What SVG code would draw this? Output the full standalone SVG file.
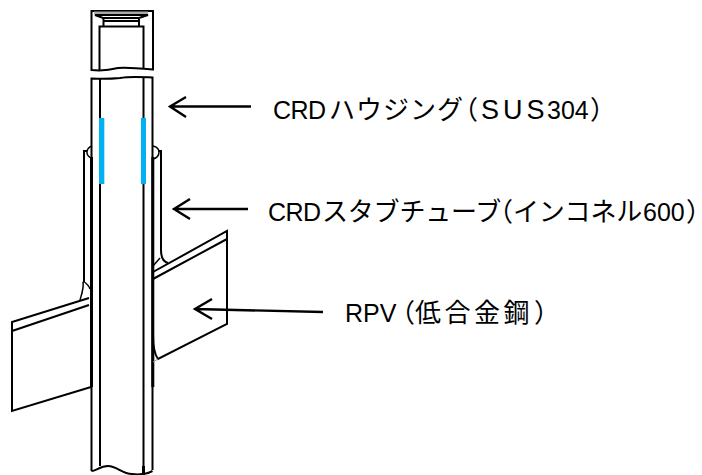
<svg xmlns="http://www.w3.org/2000/svg" width="702" height="475" viewBox="0 0 702 475">
<style>
.l{fill:none;stroke:#000;stroke-width:1.500}
.m{fill:none;stroke:#000;stroke-width:2}
.h{fill:none;stroke:#000;stroke-width:3}
.g{fill:none;stroke:#000;stroke-width:2.400}
.y{fill:none;stroke:#999;stroke-width:1}
.b{fill:#00b0f0}
text{font-family:"Liberation Sans","Noto Sans CJK JP",sans-serif;font-size:25px;fill:#000}
.k{font-family:"Noto Sans CJK JP","Liberation Sans",sans-serif;font-size:26px}
.p{font-family:"Noto Sans CJK JP","Liberation Sans",sans-serif;font-size:26px;font-feature-settings:"halt"}
.s{font-size:27px}
</style>
<rect width="702" height="475" fill="#fff"/>
<g id="crd-housing">
<path class="m" d="M91.500 70V11H153V69.500C137 68 124 67 118 68C110 70 100 71 91.500 70Z"/>
<rect x="94" y="11.500" width="54" height="3" fill="#aaa"/>
<path class="m" d="M95 15H148L139 18H103ZM103.500 18V26M139 18V26M103.500 21H139"/>
<path class="m" d="M99.500 70V26.500H143.500V69"/>
<path class="m" d="M91.500 471V78.500C100 79 110 79 120 78C130 76 142 77 152.500 77.500V470"/>
<path class="m" d="M100 79V466M143.500 78V475"/>
<path class="h" d="M91.500 157V387M152.800 157V387"/>
<path class="h" d="M143.500 466V475"/>
<path class="m" d="M91.500 471C96 471 100 466 108 466C117 466 122 474 132 474C140 475 147 474 152.500 471"/>
<rect class="b" x="99" y="118" width="5.300" height="66"/>
<rect class="b" x="141" y="118" width="5" height="66"/>
</g>
<g id="crd-stub-tube">
<path class="m" d="M84 282V151H87M161 250V151H158"/>
<path class="l" d="M92 146C86 148 85 155 91 158M153 146C157 147 159 149 159 152C159 155 157 158 153 159"/>
<path class="l" d="M83 282C84 288 82 293 80 300M83 281C86 283 89 286 90 289"/>
<path class="m" d="M161 250C161 258 164 262 168 263"/>
<path class="l" d="M153 266L160 258"/>
</g>
<g id="rpv">
<path class="m" d="M89 298L12 322V411L91 387M89 305L12 331"/>
<path class="m" d="M153 272L227 231V324L158 359C155 355 153 345 153 335M153 279L227 239"/>
<path class="y" d="M153 362L158 359"/>
</g>
<g id="connectors">
<path class="g" d="M251 106.500H171M186 97L170 106.500L186 117"/>
<path class="g" d="M248 209H174M190 199L174 209L190 219"/>
<path class="g" d="M323 312L195 309M212 299L195 309L212 319"/>
</g>
<g id="labels">
<text y="118.500"><tspan x="273" letter-spacing="-.5">CRD</tspan><tspan class="k" x="329" letter-spacing="1">ハウジング</tspan><tspan class="p" x="465">（</tspan><tspan class="s" x="481" letter-spacing="4">SUS</tspan><tspan x="547">304</tspan><tspan class="p" x="590">）</tspan></text>
<text y="221"><tspan x="268" letter-spacing="-.5">CRD</tspan><tspan class="k" x="322" letter-spacing="-.2">スタブチューブ</tspan><tspan class="p" x="500">（</tspan><tspan class="k" x="513" letter-spacing="-.2">インコネル</tspan><tspan x="643">600</tspan><tspan class="p" x="686">）</tspan></text>
<text y="322"><tspan x="345">RPV</tspan><tspan class="p" x="402">（</tspan><tspan class="k" x="415" letter-spacing="3.500">低合金鋼</tspan><tspan class="p" x="534">）</tspan></text>
</g>
</svg>
